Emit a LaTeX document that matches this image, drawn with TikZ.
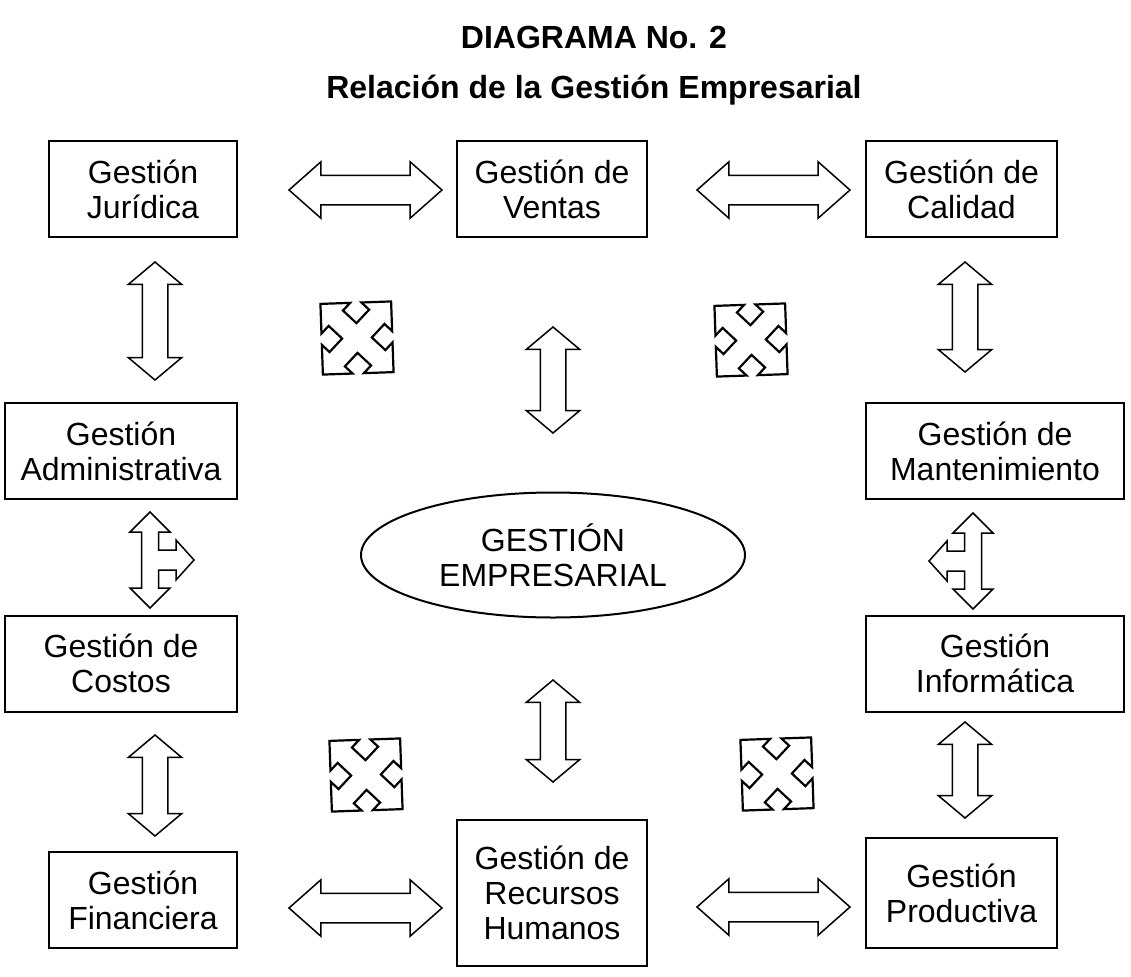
\documentclass[tikz,border=0pt]{standalone}
\usepackage{fontspec}
\setmainfont{Liberation Sans}
\usetikzlibrary{shapes.geometric,shapes.arrows}

\begin{document}
\begin{tikzpicture}[
  x=0.5pt, y=-0.5pt,
  box/.style={draw, line width=1pt, inner sep=0pt, align=center,
              minimum width=94pt, minimum height=48pt,
              font=\fontsize{16}{17.5}\selectfont},
  titulo/.style={anchor=base, font=\fontsize{16}{19}\selectfont\bfseries},
  harr/.style={draw, double arrow, line width=0.75pt, inner sep=0pt, inner ysep=7pt,
               minimum height=76.5pt, double arrow head extend=6.75pt,
               double arrow tip angle=83},
  varr/.style={draw, double arrow, rotate=90, line width=0.75pt, inner sep=0pt,
               inner ysep=6pt, double arrow head extend=7pt,
               double arrow tip angle=100},
  quadarr/.pic={
    \draw[line width=1.1pt, rotate=47]
      (50,0) -- (29,21) -- (29,10.5) -- (10.5,10.5) -- (10.5,29) -- (21,29) -- (0,50)
      -- (-21,29) -- (-10.5,29) -- (-10.5,10.5) -- (-29,10.5) -- (-29,21) -- (-50,0)
      -- (-29,-21) -- (-29,-10.5) -- (-10.5,-10.5) -- (-10.5,-29) -- (-21,-29) -- (0,-50)
      -- (21,-29) -- (10.5,-29) -- (10.5,-10.5) -- (29,-10.5) -- (29,-21) -- cycle;
  },
  tarr/.pic={
    \draw[line width=0.75pt]
      (0,-48) -- (20,-28) -- (8.5,-28) -- (8.5,-10) -- (26,-10) -- (26,-20) -- (44,0)
      -- (26,20) -- (26,10) -- (8.5,10) -- (8.5,28) -- (20,28) -- (0,48)
      -- (-20,28) -- (-8.5,28) -- (-8.5,-28) -- (-20,-28) -- cycle;
  }
]
\useasboundingbox (0,0) rectangle (1131,976);
% Titles
\node[titulo] (tit1) at (594,48) {DIAGRAMA No. 2};
\node[titulo] (tit2) at (594,98) {Relación de la Gestión Empresarial};
% Top row
\node[box] (jur) at (143,189) {Gestión\\Jurídica};
\node[box, minimum width=95pt] (ven) at (552,189) {Gestión de\\Ventas};
\node[box, minimum width=95.5pt] (cal) at (961.5,189) {Gestión de\\Calidad};
% Middle rows
\node[box, minimum width=116pt] (adm) at (121,451) {Gestión\\Administrativa};
\node[box, minimum width=129pt] (man) at (995,451) {Gestión de\\Mantenimiento};
\node[box, minimum width=116pt] (cos) at (121,663.5) {Gestión de\\Costos};
\node[box, minimum width=129pt] (inf) at (995,663.5) {Gestión\\Informática};
% Bottom row
\node[box] (fin) at (143,900) {Gestión\\Financiera};
\node[box, minimum width=95pt, minimum height=73pt] (rrhh) at (552,893) {Gestión de\\Recursos\\Humanos};
\node[box, minimum width=95.5pt, minimum height=55pt] (pro) at (961.5,893) {Gestión\\Productiva};
% Centre
\node[draw, ellipse, line width=1pt, inner sep=0pt, minimum width=192pt, minimum height=62.5pt,
      align=center, font=\fontsize{16}{17.5}\selectfont] (emp) at (553,555) {GESTIÓN\\EMPRESARIAL};

% Block arrows
\node[harr] (a1) at (365.5,190) {};
\node[harr] (a2) at (773.5,190) {};
\node[harr] (a3) at (365.5,908) {};
\node[harr] (a4) at (773.5,907) {};
\node[varr, minimum height=59pt] (b1) at (155,321) {};
\node[varr, minimum height=53pt] (b2) at (553,380) {};
\node[varr, minimum height=55pt] (b3) at (965,317) {};
\node[varr, minimum height=51pt] (b4) at (553,731) {};
\node[varr, minimum height=50.5pt] (b5) at (155,785.5) {};
\node[varr, minimum height=48pt] (b6) at (965,770) {};
% Branch arrows
\pic (t1) at (150,560) {tarr};
\pic[xscale=-1] (t2) at (973,561) {tarr};
% Four-way arrows
\pic (q1) at (357,338) {quadarr};
\pic (q2) at (751,340) {quadarr};
\pic (q3) at (366,775) {quadarr};
\pic (q4) at (777,774) {quadarr};
\end{tikzpicture}
\end{document}
